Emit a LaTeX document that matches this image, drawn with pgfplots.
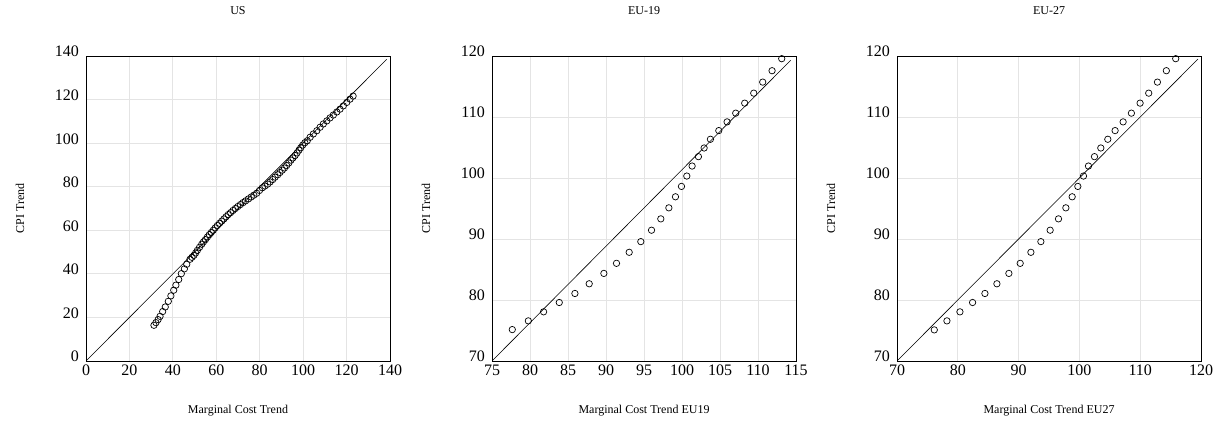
\documentclass[border=0pt]{standalone}
\usepackage{fontspec}
\setmainfont{Liberation Serif}
\usepackage{pgfplots}
\pgfplotsset{compat=1.18}
\definecolor{gridgray}{HTML}{E4E4E4}
\pgfplotsset{
  qq/.style={
    scale only axis, width=304pt, height=305pt,
    axis line style={black, line width=0.9pt},
    grid=major, major grid style={gridgray, line width=0.8pt},
    major tick length=0pt,
    font=\fontsize{12}{14}\selectfont,
    /pgf/number format/assume math mode=true,
    title style={at={(axis description cs:0.5,1)}, anchor=base, yshift=35pt},
    xlabel style={at={(axis description cs:0.5,0)}, anchor=base, yshift=-53pt},
    ylabel style={at={(axis description cs:-0.217,0.5)}, anchor=center},
    ticklabel style={font=\fontsize{16}{18}\selectfont},
    xticklabel style={anchor=north, yshift=-0.7pt},
    yticklabel style={anchor=base east, xshift=-3.7pt, yshift=-1pt},
  },
  mk/.style={only marks, mark=o, black, mark size=3.2pt, mark options={line width=0.7pt}},
  dg/.style={black, line width=0.6pt, no marks},
}
\begin{document}
\begin{tikzpicture}
\path (0pt,0pt) rectangle (1222pt,430pt);
% US
\begin{axis}[qq, at={(86pt,69pt)}, anchor=south west,
  xmin=0, xmax=140, ymin=0, ymax=140,
  xtick={0,20,...,140}, ytick={0,20,...,140},
  title={US}, xlabel={Marginal Cost Trend}, ylabel={CPI Trend}]
\addplot[dg] coordinates {(0,0) (138.5,138.5)};
\addplot[mk] coordinates {
(31.3,16.4) (32.2,17.6) (33.2,19.0) (34.1,20.5) (35.3,22.7) (36.5,24.8)
(37.9,27.4) (39.1,29.9) (40.4,32.5) (41.4,34.8) (42.7,37.4) (43.9,40.1)
(45.3,42.3) (46.4,44.4) (47.9,46.7) (48.8,47.6) (49.7,48.5) (50.5,49.6)
(51.3,50.8) (52.3,52.2) (53.3,53.6) (54.1,54.7) (55.0,55.7) (55.9,56.9)
(56.8,58.0) (57.7,59.0) (58.6,60.0) (59.5,61.1) (60.5,62.2) (61.5,63.2)
(62.5,64.2) (63.5,65.2) (64.5,66.2) (65.5,67.2) (66.6,68.1) (67.7,69.1)
(68.8,70.0) (69.9,70.9) (71.1,71.8) (72.3,72.7) (73.5,73.5) (74.8,74.4)
(76.1,75.3) (77.3,76.1) (78.6,77.0) (79.9,78.3) (81.2,79.5) (82.4,80.3)
(83.7,81.2) (84.8,82.2) (86.0,83.3) (87.1,84.4) (88.3,85.5) (89.3,86.5)
(90.4,87.6) (91.4,88.6) (92.4,89.7) (93.4,90.9) (94.4,92.2) (95.3,93.2)
(96.3,94.3) (97.2,95.5) (98.1,96.8) (98.9,97.9) (99.8,99.1) (100.8,100.2)
(101.9,101.1) (103.2,102.7) (104.7,104.2) (106.3,105.7) (107.8,107.3)
(109.3,108.8) (110.9,110.2) (112.4,111.6) (113.9,112.9) (115.5,114.3)
(117.0,115.6) (118.5,117.1) (120.1,118.7) (121.6,120.2) (123.0,121.6)
};
\end{axis}
% EU-19
\begin{axis}[qq, at={(492pt,69pt)}, anchor=south west,
  xmin=75, xmax=115, ymin=70, ymax=120,
  xtick={75,80,...,115}, ytick={70,80,...,120},
  title={EU-19}, xlabel={Marginal Cost Trend EU19}, ylabel={CPI Trend}]
\addplot[dg] coordinates {(75,70) (114.3,119.3)};
\addplot[mk] coordinates {
(77.67,75.15) (79.78,76.58) (81.79,78.06) (83.85,79.59) (85.91,81.07)
(87.79,82.66) (89.72,84.36) (91.38,86.01) (93.05,87.82) (94.58,89.57)
(95.99,91.44) (97.21,93.30) (98.27,95.11) (99.14,96.92) (99.93,98.62)
(100.63,100.32) (101.33,101.96) (102.16,103.50) (102.91,104.92)
(103.74,106.35) (104.84,107.77) (105.93,109.20) (107.07,110.63)
(108.25,112.27) (109.44,113.91) (110.62,115.72) (111.85,117.59) (113.12,119.56)
};
\end{axis}
% EU-27
\begin{axis}[qq, at={(897pt,69pt)}, anchor=south west,
  xmin=70, xmax=120, ymin=70, ymax=120,
  xtick={70,80,...,120}, ytick={70,80,...,120},
  title={EU-27}, xlabel={Marginal Cost Trend EU27}, ylabel={CPI Trend}]
\addplot[dg] coordinates {(70,70) (119.5,119.5)};
\addplot[mk] coordinates {
(76.13,75.10) (78.21,76.58) (80.35,78.06) (82.43,79.59) (84.46,81.07)
(86.43,82.66) (88.40,84.36) (90.26,86.01) (92.02,87.82) (93.66,89.57)
(95.19,91.44) (96.56,93.30) (97.77,95.11) (98.81,96.92) (99.74,98.62)
(100.67,100.32) (101.49,101.96) (102.48,103.50) (103.52,104.92)
(104.67,106.35) (105.87,107.77) (107.19,109.20) (108.55,110.63)
(109.98,112.27) (111.40,113.91) (112.83,115.72) (114.30,117.59) (115.84,119.56)
};
\end{axis}
\end{tikzpicture}
\end{document}
